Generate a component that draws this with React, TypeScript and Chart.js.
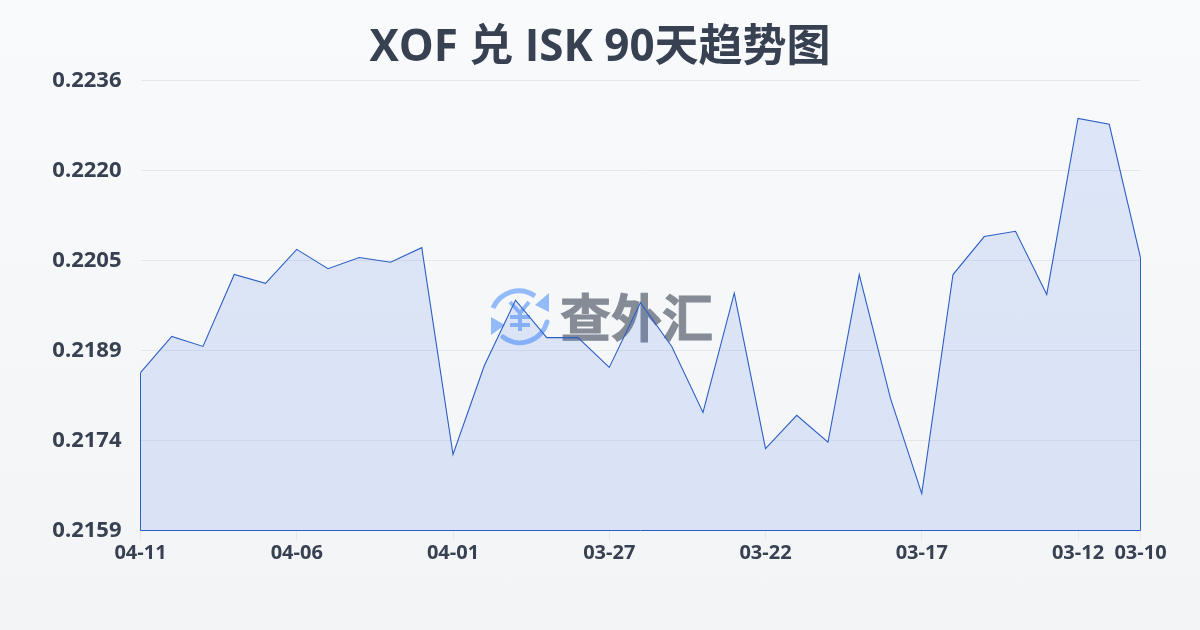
import React, { useEffect, useRef } from "react";
import { Chart, registerables } from "chart.js";

Chart.register(...registerables);

const titleText = "XOF 兑 ISK 90天趋势图";
const watermarkText = "查外汇";
const dates = [
  "04-11","04-10","04-09","04-08","04-07","04-06","04-05","04-04","04-03","04-02","04-01",
  "03-31","03-30","03-29","03-28","03-27","03-26","03-25","03-24","03-23","03-22",
  "03-21","03-20","03-19","03-18","03-17","03-16","03-15","03-14","03-13","03-12","03-11","03-10",
];
const shownDates = ["04-11","04-06","04-01","03-27","03-22","03-17","03-12","03-10"];
const rates = [
  0.21856,0.21918,0.21901,0.22024,0.22009,0.22067,0.22034,0.22053,0.22045,0.2207,0.21716,
  0.21868,0.2198,0.21916,0.21916,0.21865,0.21976,0.21901,0.21788,0.21992,0.21726,
  0.21783,0.21737,0.22024,0.21812,0.21649,0.22024,0.22089,0.22098,0.2199,0.22291,0.22281,0.22053,
];
const yTicks = [0.21586, 0.2174, 0.21894, 0.22048, 0.22202, 0.22356];

const FONT = '"Open Sans", "Noto Sans CJK SC", sans-serif';
const TEXT = "#374151";

const closeArea = {
  id: "closeArea",
  afterDatasetsDraw(chart: any) {
    const pts = chart.getDatasetMeta(0).data;
    const y0 = chart.scales.y.bottom;
    const c = chart.ctx;
    c.save();
    c.strokeStyle = "#2c5fc6";
    c.lineWidth = 1;
    c.beginPath();
    c.moveTo(pts[0].x, pts[0].y);
    c.lineTo(pts[0].x, y0);
    c.lineTo(pts[pts.length - 1].x, y0);
    c.lineTo(pts[pts.length - 1].x, pts[pts.length - 1].y);
    c.stroke();
    c.restore();
  },
};

export default function App() {
  const ref = useRef<HTMLCanvasElement>(null);
  useEffect(() => {
    document.body.style.margin = "0";
    const chart = new Chart(ref.current!, {
      type: "line",
      data: {
        labels: dates,
        datasets: [{
          data: rates,
          borderColor: "#2c5fc6",
          borderWidth: 1.1,
          backgroundColor: "rgba(37,99,235,0.125)",
          fill: "origin",
          pointRadius: 0,
          tension: 0,
        }],
      },
      plugins: [closeArea],
      options: {
        animation: false,
        responsive: false,
        layout: { padding: { right: 59.5, left: 0, top: 80.5, bottom: 0 } },
        plugins: {
          legend: { display: false },
          tooltip: { enabled: false },
          title: { display: false },
        },
        scales: {
          x: {
            grid: { drawOnChartArea: false, drawTicks: true, tickLength: 10, color: "#e5e7eb" },
            border: { display: false },
            afterFit(s: any) { s.height = 99.5; },
            afterBuildTicks(s: any) {
              s.ticks = dates.map((d, i) => ({ value: i, label: d })).filter((t) => shownDates.includes(t.label));
            },
            ticks: {
              autoSkip: false,
              maxRotation: 0,
              color: TEXT,
              padding: 1,
              font: { family: FONT, size: 20, weight: "bold", lineHeight: 1.2 },
              callback(this: any, v: any) { return dates[v]; },
            },
          },
          y: {
            min: yTicks[0],
            max: yTicks[yTicks.length - 1],
            grid: { drawTicks: false, color: "#e5e7eb", lineWidth: 1 },
            border: { display: false },
            afterFit(s: any) { s.width = 140.5; },
            afterBuildTicks(s: any) { s.ticks = yTicks.map((value) => ({ value })); },
            ticks: {
              color: TEXT,
              padding: 19,
              font: { family: FONT, size: 22, weight: "bold" },
              callback(v: any) { return Number(v).toFixed(4); },
            },
          },
        },
      },
    } as any);
    return () => chart.destroy();
  }, []);

  return (
    <div style={{ position: "relative", width: 1200, height: 630, background: "linear-gradient(180deg,#f8fafc 0%,#f3f4f6 100%)", overflow: "hidden" }}>
      <svg width={64} height={64} viewBox="0 0 64 64" style={{ position: "absolute", left: 488, top: 284 }} fill="none">
        <path d="M5 24 A28 28 0 0 1 47 12" stroke="#93bbf9" strokeWidth="5" />
        <path d="M15 53 A28 28 0 0 0 59 38" stroke="#93bbf9" strokeWidth="5" strokeLinecap="round" />
        <path d="M61 9 L61 28 L47 21 Z" fill="#93bbf9" />
        <path d="M3 33 L3 51 L17 41 Z" fill="#93bbf9" />
        <path d="M22 18 L32 29 L41 18 M22 33 H42 M22 41 H42 M32 29 V47" stroke="#93bbf9" strokeWidth="4" />
      </svg>
      <div style={{ position: "absolute", left: 560, top: 279, fontFamily: '"Noto Sans CJK SC"', fontWeight: 700, fontSize: 51, lineHeight: "72px", color: "#868c96", whiteSpace: "nowrap", WebkitTextStroke: "1px #868c96" }}>{watermarkText}</div>
      <canvas ref={ref} width={1200} height={630} style={{ position: "absolute", left: 0, top: 0 }} />
      <div style={{ position: "absolute", left: 0, width: 1200, top: 16, textAlign: "center", fontFamily: FONT, fontWeight: 700, fontSize: 44, lineHeight: "56px", color: TEXT, whiteSpace: "nowrap" }}>{titleText}</div>
    </div>
  );
}
